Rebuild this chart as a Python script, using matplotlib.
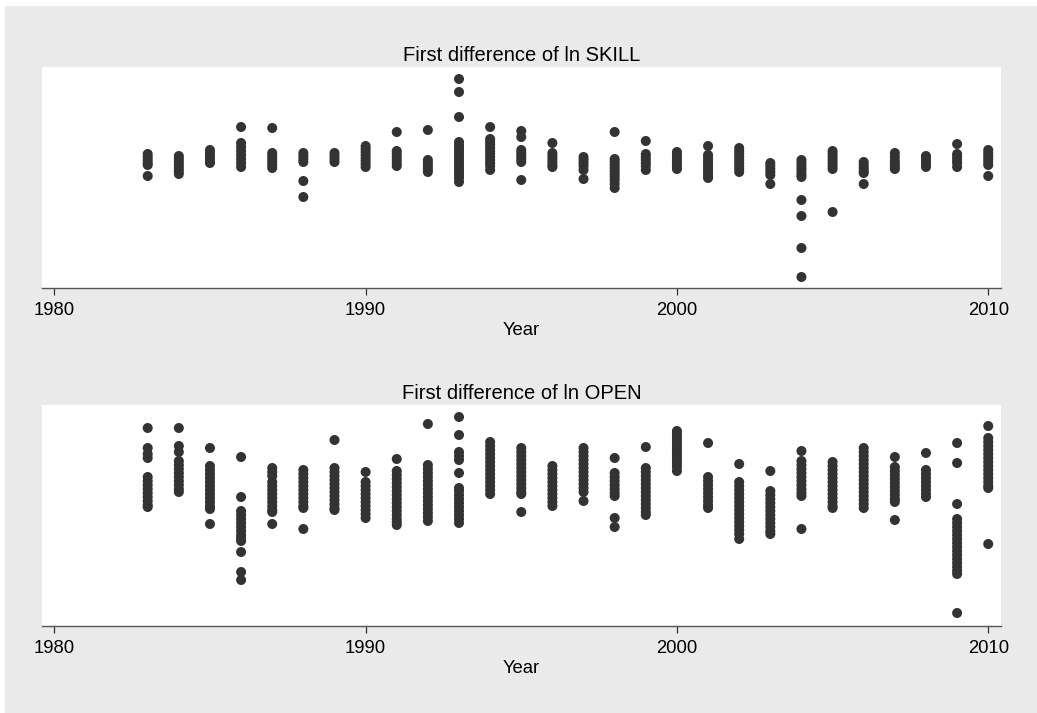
import matplotlib
matplotlib.use("Agg")
import matplotlib.pyplot as plt
from matplotlib.patches import Rectangle

plt.rcParams['font.family'] = ['Liberation Sans', 'DejaVu Sans']

years = list(range(1983, 2011))

# First difference of ln SKILL, one list of observations per year
skill_diff = [
    [0.012, 0.006, 0.0, -0.006, -0.010, -0.032],                      # 1983
    [0.008, 0.002, -0.004, -0.010, -0.016, -0.022, -0.028],           # 1984
    [0.020, 0.014, 0.008, 0.002, -0.004, -0.006],                     # 1985
    [0.066, 0.034, 0.026, 0.018, 0.010, 0.002, -0.006, -0.014],       # 1986
    [0.064, 0.014, 0.008, 0.002, -0.004, -0.010, -0.016],             # 1987
    [0.014, 0.008, 0.002, -0.004, -0.042, -0.074],                    # 1988
    [0.014, 0.008, 0.002, -0.004],                                    # 1989
    [0.028, 0.022, 0.016, 0.010, 0.004, -0.002, -0.008, -0.014],      # 1990
    [0.056, 0.018, 0.012, 0.006, 0.0, -0.006, -0.012],                # 1991
    [0.060, 0.0, -0.006, -0.012, -0.018, -0.024],                     # 1992
    [0.162, 0.136, 0.086, 0.036, 0.030, 0.024, 0.018, 0.012, 0.006, 0.0,
     -0.006, -0.012, -0.018, -0.024, -0.030, -0.036, -0.044],         # 1993
    [0.066, 0.042, 0.036, 0.030, 0.024, 0.018, 0.012, 0.006, 0.0,
     -0.006, -0.012, -0.020],                                         # 1994
    [0.058, 0.046, 0.020, 0.014, 0.008, 0.002, -0.004, -0.040],       # 1995
    [0.034, 0.014, 0.008, 0.002, -0.004, -0.010, -0.014],             # 1996
    [0.006, 0.0, -0.006, -0.012, -0.020, -0.038],                     # 1997
    [0.056, 0.002, -0.004, -0.010, -0.016, -0.022, -0.028, -0.034,
     -0.040, -0.048, -0.056],                                         # 1998
    [0.038, 0.012, 0.006, 0.0, -0.006, -0.012, -0.020],               # 1999
    [0.016, 0.010, 0.004, -0.002, -0.008, -0.014, -0.018],            # 2000
    [0.028, 0.010, 0.004, -0.002, -0.008, -0.014, -0.020, -0.026,
     -0.032, -0.036],                                                 # 2001
    [0.024, 0.018, 0.012, 0.006, 0.0, -0.006, -0.012, -0.018, -0.024],  # 2002
    [-0.006, -0.012, -0.018, -0.024, -0.030, -0.048],                 # 2003
    [0.0, -0.006, -0.012, -0.018, -0.024, -0.030, -0.034, -0.080,
     -0.112, -0.176, -0.234],                                         # 2004
    [0.018, 0.012, 0.006, 0.0, -0.006, -0.012, -0.018, -0.104],       # 2005
    [-0.004, -0.010, -0.016, -0.022, -0.026, -0.048],                 # 2006
    [0.014, 0.006, -0.002, -0.008, -0.014, -0.018],                   # 2007
    [0.008, 0.002, -0.004, -0.010, -0.014],                           # 2008
    [0.032, 0.012, 0.006, 0.0, -0.006, -0.014],                       # 2009
    [0.020, 0.014, 0.008, 0.002, -0.004, -0.010, -0.032],             # 2010
]

# First difference of ln OPEN, one list of observations per year
open_diff = [
    [0.144, 0.104, 0.092, 0.084, 0.046, 0.038, 0.030, 0.022, 0.014, 0.006,
     -0.002, -0.010, -0.014],                                         # 1983
    [0.144, 0.108, 0.096, 0.078, 0.070, 0.062, 0.054, 0.046, 0.038, 0.030,
     0.022, 0.016],                                                   # 1984
    [0.104, 0.068, 0.060, 0.052, 0.044, 0.036, 0.028, 0.020, 0.012, 0.004,
     -0.004, -0.012, -0.018, -0.048],                                 # 1985
    [0.086, 0.006, -0.022, -0.030, -0.038, -0.046, -0.054, -0.062, -0.070,
     -0.076, -0.082, -0.104, -0.144, -0.160],                         # 1986
    [0.064, 0.056, 0.048, 0.036, 0.028, 0.020, 0.012, 0.004, -0.004,
     -0.012, -0.020, -0.024, -0.048],                                 # 1987
    [0.060, 0.052, 0.044, 0.036, 0.028, 0.020, 0.012, 0.004, -0.004,
     -0.012, -0.016, -0.058],                                         # 1988
    [0.120, 0.064, 0.056, 0.048, 0.040, 0.032, 0.024, 0.016, 0.008, 0.0,
     -0.008, -0.016, -0.020],                                         # 1989
    [0.056, 0.036, 0.028, 0.020, 0.012, 0.004, -0.004, -0.012, -0.020,
     -0.028, -0.036],                                                 # 1990
    [0.082, 0.058, 0.050, 0.042, 0.034, 0.026, 0.018, 0.010, 0.002,
     -0.006, -0.014, -0.022, -0.030, -0.038, -0.044, -0.050],         # 1991
    [0.152, 0.070, 0.062, 0.054, 0.046, 0.038, 0.030, 0.022, 0.014, 0.006,
     -0.002, -0.010, -0.018, -0.026, -0.034, -0.042],                 # 1992
    [0.166, 0.130, 0.096, 0.088, 0.080, 0.054, 0.024, 0.018, 0.010, 0.002,
     -0.006, -0.014, -0.022, -0.030, -0.038, -0.046],                 # 1993
    [0.116, 0.108, 0.100, 0.092, 0.084, 0.076, 0.068, 0.060, 0.052, 0.044,
     0.036, 0.028, 0.020, 0.012],                                     # 1994
    [0.104, 0.096, 0.088, 0.080, 0.072, 0.064, 0.056, 0.048, 0.040, 0.032,
     0.024, 0.016, 0.012, -0.024],                                    # 1995
    [0.068, 0.060, 0.052, 0.044, 0.036, 0.028, 0.020, 0.012, 0.004,
     -0.004, -0.012],                                                 # 1996
    [0.104, 0.096, 0.088, 0.080, 0.072, 0.064, 0.056, 0.048, 0.040, 0.032,
     0.024, 0.016, -0.002],                                           # 1997
    [0.084, 0.054, 0.046, 0.038, 0.030, 0.022, 0.014, 0.008, -0.036,
     -0.054],                                                         # 1998
    [0.106, 0.064, 0.056, 0.048, 0.040, 0.032, 0.024, 0.016, 0.008, 0.0,
     -0.008, -0.016, -0.024, -0.030],                                 # 1999
    [0.138, 0.132, 0.126, 0.120, 0.114, 0.108, 0.102, 0.096, 0.090, 0.084,
     0.078, 0.072, 0.066, 0.058],                                     # 2000
    [0.114, 0.046, 0.038, 0.030, 0.022, 0.014, 0.006, -0.002, -0.010,
     -0.016],                                                         # 2001
    [0.072, 0.036, 0.028, 0.020, 0.012, 0.004, -0.004, -0.012, -0.020,
     -0.028, -0.036, -0.044, -0.052, -0.060, -0.068, -0.078],         # 2002
    [0.058, 0.018, 0.010, 0.002, -0.006, -0.014, -0.022, -0.030, -0.038,
     -0.046, -0.054, -0.062, -0.068],                                 # 2003
    [0.098, 0.078, 0.070, 0.062, 0.054, 0.046, 0.038, 0.030, 0.022, 0.014,
     0.008, -0.058],                                                  # 2004
    [0.076, 0.068, 0.060, 0.052, 0.044, 0.036, 0.028, 0.020, 0.012, 0.004,
     -0.004, -0.012, -0.016],                                         # 2005
    [0.104, 0.096, 0.088, 0.080, 0.072, 0.064, 0.056, 0.048, 0.040, 0.032,
     0.024, 0.016, 0.008, 0.0, -0.008, -0.016],                       # 2006
    [0.086, 0.066, 0.058, 0.050, 0.042, 0.034, 0.026, 0.018, 0.010, 0.002,
     -0.004, -0.040],                                                 # 2007
    [0.094, 0.060, 0.052, 0.044, 0.036, 0.028, 0.020, 0.012, 0.006],  # 2008
    [0.114, 0.074, -0.008, -0.038, -0.046, -0.054, -0.062, -0.070, -0.078,
     -0.086, -0.094, -0.102, -0.110, -0.118, -0.126, -0.134, -0.142,
     -0.148, -0.226],                                                 # 2009
    [0.148, 0.124, 0.116, 0.108, 0.100, 0.092, 0.084, 0.076, 0.068, 0.060,
     0.052, 0.044, 0.036, 0.028, 0.024, -0.088],                      # 2010
]

panel_titles = ["First difference of ln SKILL", "First difference of ln OPEN"]
x_ticks = [1980, 1990, 2000, 2010]
x_label = "Year"

W, H = 1037, 713
fig = plt.figure(figsize=(W / 100, H / 100), dpi=100, facecolor='white')
fig.patches.append(Rectangle((5 / W, 0), 1 - 5 / W, 1 - 6 / H,
                             transform=fig.transFigure, facecolor='#EAEAEA',
                             edgecolor='none', zorder=-10))

left, right = 41.7 / W, 1001 / W
panels = [
    (skill_diff, (288.0, 66.7), (-0.256, 0.1866)),
    (open_diff, (626.0, 405.0), (-0.252, 0.190)),
]

for (data, (ybot, ytop), ylim), title in zip(panels, panel_titles):
    ax = fig.add_axes([left, 1 - ybot / H, right - left, (ybot - ytop) / H])
    ax.set_facecolor('white')
    xs, ys = [], []
    for yr, vals in zip(years, data):
        xs.extend([yr] * len(vals))
        ys.extend(vals)
    ax.scatter(xs, ys, s=52, color='#333333', edgecolors='none', zorder=3)
    ax.set_xlim(1979.595, 2010.41)
    ax.set_ylim(*ylim)
    for s in ['left', 'right', 'top']:
        ax.spines[s].set_visible(False)
    ax.spines['bottom'].set_color('#555555')
    ax.spines['bottom'].set_linewidth(1.0)
    ax.set_yticks([])
    ax.set_xticks(x_ticks)
    ax.set_xticklabels([str(t) for t in x_ticks])
    ax.tick_params(axis='x', direction='out', length=5, width=0.9,
                   color='#333333', labelsize=13.3, pad=5, labelcolor='black')
    ax.set_xlabel(x_label, fontsize=13.3, labelpad=2)
    ax.set_title(title, fontsize=14.5, pad=4)

fig.savefig('out.png', dpi=100, facecolor=fig.get_facecolor())
